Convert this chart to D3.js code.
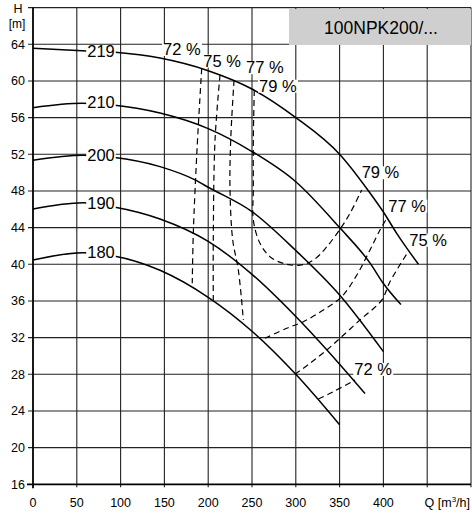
<!DOCTYPE html>
<html>
<head>
<meta charset="utf-8">
<script src="https://cdn.jsdelivr.net/npm/d3@7"></script>
<style>
  html, body { margin: 0; padding: 0; background: #fff; }
  svg { display: block; }
  text { font-family: "Liberation Sans", Arial, sans-serif; fill: #000; }
</style>
</head>
<body>
<svg id="chart" width="472" height="516"></svg>
<script>
// ---------- data ----------
const xTicks = [0, 50, 100, 150, 200, 250, 300, 350, 400];
const yTicks = [16, 20, 24, 28, 32, 36, 40, 44, 48, 52, 56, 60, 64];
const xGrid = [50, 100, 150, 200, 250, 300, 350, 400, 450, 500];
const yGrid = [20, 24, 28, 32, 36, 40, 44, 48, 52, 56, 60, 64, 68];

const diameters = ["219", "210", "200", "190", "180"];
const curve219 = [[0,63.56],[56,63.30],[94,63.13],[145,62.5],[200,61.12],[250,59.12],[300,56.0],[350,52.0],[383,48.0],[400,45.7],[415,43.4],[440,40.0]];
const curve210 = [[0,57.08],[56,57.56],[91,57.38],[145,56.5],[200,54.8],[250,52.3],[300,49.0],[350,44.0],[385,40.1],[400,37.9],[420,35.6]];
const curve200 = [[0,51.35],[57,51.9],[91,51.67],[145,50.65],[185,49.2],[200,48.4],[250,45.74],[300,41.5],[350,36.65],[400,30.47]];
const curve190 = [[0,46.03],[57,46.72],[91,46.28],[145,44.94],[200,42.5],[250,38.9],[300,34.3],[350,29.1],[379,25.9]];
const curve180 = [[0,40.46],[57,41.27],[91,40.94],[145,39.35],[200,36.4],[250,32.7],[300,28.0],[350,22.5]];
const diameterLabelQ = [77.6, 77.6, 77.6, 77.6, 77.6];
const diameterLabelH = [62.61, 57.02, 51.3, 46.0, 40.66];

// iso-efficiency branches
const eff72Left  = [[192.6,61.38],[187.2,52.47],[183.0,43.38],[181.8,37.93]];
const eff75Left  = [[213.5,60.65],[207.8,53.56],[205.8,42.65],[205.8,36.1]];
const eff77Left  = [[229.5,60.1],[225.7,53.56],[224.9,48.1],[228.0,42.65],[234.4,39.38],[240.1,33.93]];
const eff79Loop  = [[252.6,59.0],[251.5,53.56],[251.5,48.1],[251.5,44.83],[259.1,42.29],[270.5,40.83],[285.7,40.1],[304.8,39.9],[320,40.45],[335.3,41.9],[352.4,44.1],[361.9,45.56],[375.2,48.1]];
const eff77Right = [[264.8,31.93],[289.6,33.02],[308.6,33.74],[331.4,35.0],[352.4,36.47],[369.5,38.8],[384.7,41.56],[396.1,43.74],[403.8,45.0]];
const eff75Right = [[299.1,28.0],[316.2,29.2],[335.3,30.65],[350.5,31.93],[373.3,33.93],[398.1,36.1],[407.5,38.1],[428.4,41.38]];
const eff72Right = [[325.7,25.3],[342.8,26.1],[367.6,27.37]];

const effLabels = ["72 %", "75 %", "77 %", "79 %", "79 %", "77 %", "75 %", "72 %"];
const effLabelQ = [148.4, 194.4, 243.2, 258.0, 375.2, 405.6, 429.6, 366.8];
const effLabelH = [62.83, 61.56, 60.84, 58.83, 49.38, 45.74, 42.03, 27.93];

const titleText = "100NPK200/...";

// ---------- drawing ----------
const svg = d3.select("#chart");
const x = d3.scaleLinear().domain([0, 500]).range([33, 471]);
const y = d3.scaleLinear().domain([16, 68]).range([484.3, 7.6]);

// grid
const g = svg.append("g");
g.selectAll("line.vg").data(xGrid).enter().append("line")
  .attr("x1", d => x(d)).attr("x2", d => x(d))
  .attr("y1", y(68)).attr("y2", y(16) + 3)
  .attr("stroke", "#222").attr("stroke-width", 1.1);
g.selectAll("line.hg").data(yGrid).enter().append("line")
  .attr("x1", x(0) - 5).attr("x2", x(500))
  .attr("y1", d => y(d)).attr("y2", d => y(d))
  .attr("stroke", "#222").attr("stroke-width", 1.1);

// axes
svg.append("line").attr("x1", x(0)).attr("x2", x(0)).attr("y1", y(68)).attr("y2", y(16) + 4)
  .attr("stroke", "#000").attr("stroke-width", 1.8);
svg.append("line").attr("x1", x(0) - 6).attr("x2", x(500)).attr("y1", y(16)).attr("y2", y(16))
  .attr("stroke", "#000").attr("stroke-width", 1.8);

// tick labels
svg.selectAll("text.yt").data(yTicks).enter().append("text")
  .attr("x", x(0) - 8).attr("y", d => y(d) + 4.5)
  .attr("text-anchor", "end").attr("font-size", 12.5).text(d => d);
svg.selectAll("text.xt").data(xTicks).enter().append("text")
  .attr("x", d => x(d)).attr("y", 507)
  .attr("text-anchor", "middle").attr("font-size", 12.5).text(d => d);

// axis titles
svg.append("text").attr("x", 18).attr("y", 13).attr("text-anchor", "middle").attr("font-size", 12.5).text("H");
svg.append("text").attr("x", 17).attr("y", 27.5).attr("text-anchor", "middle").attr("font-size", 12).text("[m]");
const qt = svg.append("text").attr("x", 470).attr("y", 507).attr("text-anchor", "end").attr("font-size", 12.5);
qt.append("tspan").text("Q [m");
qt.append("tspan").attr("font-size", 8).attr("dy", -5).text("3");
qt.append("tspan").attr("dy", 5).text("/h]");

// title box
svg.append("rect").attr("x", 289).attr("y", 9).attr("width", 182).attr("height", 36).attr("fill", "#cfcfcf");
svg.append("text").attr("x", 381).attr("y", 34).attr("text-anchor", "middle").attr("font-size", 17.5).text(titleText);

// efficiency curves (dashed)
const effLine = d3.line().x(d => x(d[0])).y(d => y(d[1])).curve(d3.curveCatmullRom.alpha(0.5));
[eff72Left, eff75Left, eff77Left, eff79Loop, eff77Right, eff75Right, eff72Right].forEach(c => {
  svg.append("path").attr("d", effLine(c)).attr("fill", "none")
    .attr("stroke", "#000").attr("stroke-width", 1.2).attr("stroke-dasharray", "6,4");
});

// H-Q curves
const hqLine = d3.line().x(d => x(d[0])).y(d => y(d[1])).curve(d3.curveMonotoneX);
[curve219, curve210, curve200, curve190, curve180].forEach(c => {
  svg.append("path").attr("d", hqLine(c)).attr("fill", "none")
    .attr("stroke", "#000").attr("stroke-width", 1.5);
});

function boxedLabel(tx, ty, str, size, anchor) {
  const grp = svg.append("g");
  const t = grp.append("text").attr("x", tx).attr("y", ty).attr("text-anchor", anchor)
    .attr("font-size", size).text(str);
  const bb = t.node().getBBox();
  grp.insert("rect", "text").attr("x", bb.x - 1).attr("y", bb.y + 3)
    .attr("width", bb.width + 2).attr("height", bb.height - 5).attr("fill", "#fff");
}

diameters.forEach((d, i) => boxedLabel(x(diameterLabelQ[i]), y(diameterLabelH[i]), d, 16.5, "middle"));
effLabels.forEach((d, i) => boxedLabel(x(effLabelQ[i]), y(effLabelH[i]), d, 16.5, "start"));
</script>
</body>
</html>
